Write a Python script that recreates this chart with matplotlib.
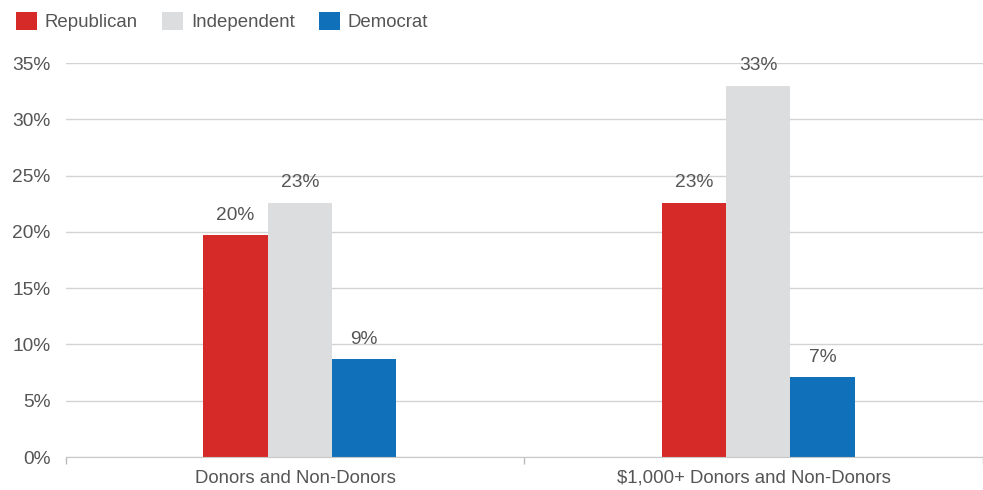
import matplotlib.pyplot as plt
import numpy as np
from matplotlib.patches import Patch

plt.rcParams['font.family'] = ['Liberation Sans', 'DejaVu Sans']

# Share of each group, in percent
categories = ['Donors and Non-Donors', '$1,000+ Donors and Non-Donors']
republican = [19.7, 22.6]
independent = [22.6, 33.0]
democrat = [8.7, 7.1]

series = ['Republican', 'Independent', 'Democrat']
colors = ['#D62A28', '#DCDDDF', '#1070BA']
text_color = '#555555'

fig = plt.figure(figsize=(9.83, 4.9), dpi=100)
ax = fig.add_axes([0.067, 0.0673, 0.933, 0.8041])

x = np.arange(len(categories))
bar_width = 0.14
shift = 0.01
for i, (name, vals, c) in enumerate(zip(series, [republican, independent, democrat], colors)):
    pos = x + shift + (i - 1) * bar_width
    bars = ax.bar(pos, vals, bar_width, color=c, label=name, zorder=3)
    for b, v in zip(bars, vals):
        ax.annotate(f'{v:.0f}%', (b.get_x() + b.get_width() / 2, v),
                    xytext=(0, 8), textcoords='offset points',
                    ha='center', va='bottom', fontsize=13.8, color=text_color)

ax.set_xlim(-0.5, 1.5)
ax.set_ylim(0, 35)
ax.set_yticks(range(0, 36, 5))
ax.set_yticklabels([f'{t}%' for t in range(0, 36, 5)])
ax.grid(True, axis='y', color='#D3D3D3', linewidth=1, zorder=0)

# category labels without ticks, small ticks at the group boundaries
ax.set_xticks(x)
ax.set_xticklabels(categories)
ax.tick_params(axis='x', length=0, pad=9, labelsize=13.4, labelcolor=text_color)
ax.set_xticks([-0.5, 0.5, 1.5], minor=True)
ax.tick_params(axis='x', which='minor', length=5, color='#BBBBBB', width=1)
ax.tick_params(axis='y', length=0, pad=11, labelsize=13.8, labelcolor=text_color)

for side in ['top', 'right', 'left']:
    ax.spines[side].set_visible(False)
ax.spines['bottom'].set_color('#C8C8C8')
ax.spines['bottom'].set_zorder(4)

handles = [Patch(facecolor=c, edgecolor='none') for c in colors]
fig.legend(handles, series, loc='upper left', bbox_to_anchor=(-0.001, 1.01), ncol=3,
           frameon=False, fontsize=13.4, labelcolor=text_color, handlelength=1.15,
           handleheight=1.15, handletextpad=0.4, columnspacing=1.3)

fig.savefig('out.png', dpi=100)
